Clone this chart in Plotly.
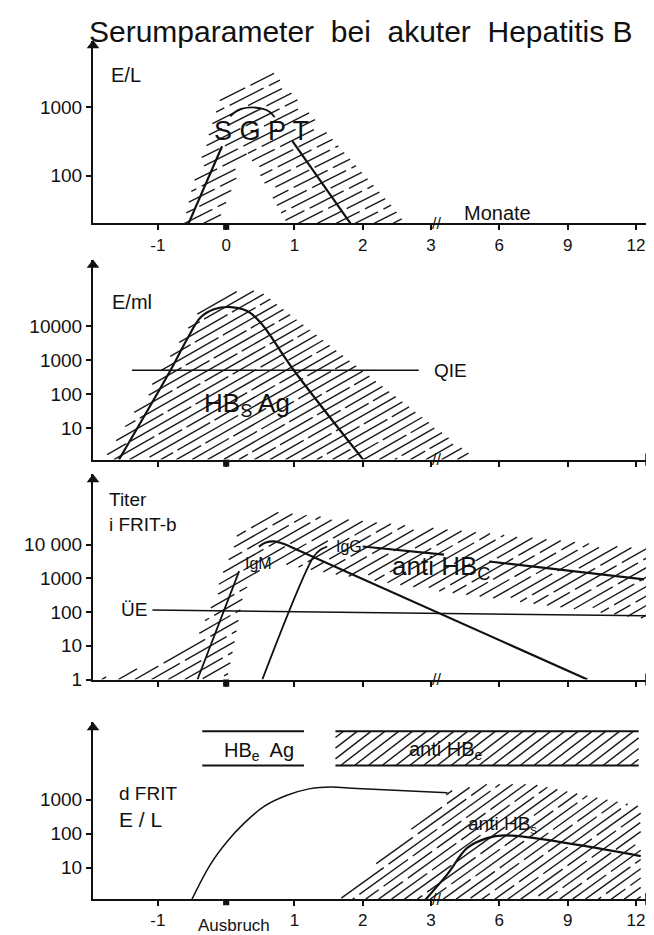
import numpy as np
import plotly.graph_objects as go

# ---------------- data (x = position on the broken month axis) ----------------
X_POS = [-1, 0, 1, 2, 3, 4, 5, 6]
X_LABELS = ["-1", "0", "1", "2", "3", "6", "9", "12"]
X_POS_BOTTOM = [-1, 1, 2, 3, 4, 5, 6]
X_LABELS_BOTTOM = ["-1", "1", "2", "3", "6", "9", "12"]

# Panel 1: SGPT (E/L)
SGPT_ZONE_X = [-0.62, -0.50, -0.35, -0.20, -0.09, 0.06, 0.70, 2.55, 2.60, 0.89, 0.31, -0.13]
SGPT_ZONE_Y = [20, 65, 195, 590, 1290, 2000, 3160, 26, 20, 20, 220, 20]
SGPT_RISE_X = [-0.55, -0.06]
SGPT_RISE_Y = [20, 270]
SGPT_PEAK_X = [0.06, 0.13, 0.22, 0.38, 0.54, 0.64, 0.71]
SGPT_PEAK_Y = [740, 860, 950, 1000, 950, 860, 720]
SGPT_FALL_X = [0.97, 1.82]
SGPT_FALL_Y = [320, 20]

# Panel 2: HBs Ag (E/ml)
HBSAG_ZONE_X = [-1.79, -0.38, -0.05, 0.30, 0.50, 3.67]
HBSAG_ZONE_Y = [1.2, 30000, 89000, 112000, 102000, 1.2]
HBSAG_X = [-1.57, -0.815, -0.571, -0.376, -0.18, 0.063, 0.307, 0.502, 0.991, 2.006]
HBSAG_Y = [1.2, 500, 4100, 17500, 30500, 35500, 27200, 12500, 500, 1.2]
QIE_X = [-1.38, 2.82]
QIE_Y = [500, 500]

# Panel 3: anti HBc (Titer iFRIT-b)
HBC_ZONE_X = [-1.89, -1.06, -0.42, -0.18, -0.08, 0.11, 0.16, 0.70, 2.2, 6.02, 6.16, 6.16,
              4.55, 3.09, 1.63, 0.89, 0.50, 0.26, 0.11, 0.01]
HBC_ZONE_Y = [1, 3, 18, 215, 1050, 7900, 19500, 95000, 46000, 7900, 7600, 63,
              175, 430, 1300, 2500, 1600, 430, 9.5, 1]
IGM_X = [-0.42, 0.19]
IGM_Y = [1, 1650]
HBC_TOTAL_X = [0.48, 0.58, 0.70, 0.84, 0.99, 5.29]
HBC_TOTAL_Y = [8900, 11700, 12600, 10700, 7900, 1]
IGG_X = [0.53, 1.28, 1.38, 1.48]
IGG_Y = [1, 4400, 7100, 8900]
HBC_LATE_X = [2.0, 3.19, None, 3.85, 6.12]
HBC_LATE_Y = [8900, 5100, None, 3200, 940]
UE_X = [-1.08, 6.16]
UE_Y = [115, 78]

# Panel 4: HBe Ag / anti HBe bars, d FRIT, anti HBs
HBEAG_X = [-0.35, 1.14]
ANTIHBE_X = [1.60, 6.04]
BAR_LOW, BAR_HIGH = 10000, 100000
DFRIT_X = [-0.50, -0.23, 0.015, 0.26, 0.55, 0.89, 1.23, 1.53, 1.92, 3.24]
DFRIT_Y = [1.2, 12.6, 59, 200, 620, 1330, 2090, 2340, 2100, 1580]
HBS_ZONE_X = [1.67, 3.28, 3.80, 4.50, 5.20, 6.07, 6.07]
HBS_ZONE_Y = [1.2, 1780, 2800, 2800, 1400, 630, 1.2]
ANTIHBS_X = [2.89, 3.24, 3.53, 3.82, 4.07, 6.07]
ANTIHBS_Y = [1.0, 6.5, 38, 74, 89, 22]

# ---------------- layout geometry ----------------
W, H = 654, 935
X_LEFT_PX, X_RIGHT_PX = 85, 645
X_RANGE = [-1.95, 6.25]
SX = (X_RIGHT_PX - X_LEFT_PX) / (X_RANGE[1] - X_RANGE[0])
# (top px, bottom px, log range min, log range max)
PANELS = [(33, 218, 1.30, 3.98), (255, 457, 0.08, 5.93),
          (472, 679.5, 0.0, 6.09), (723, 901.7, 0.08, 5.26)]
Y_TICKS = [[100, 1000], [10, 100, 1000, 10000], [1, 10, 100, 1000, 10000], [10, 100, 1000]]
Y_TICKTEXT = [["100", "1000"], ["10", "100", "1000", "10000"],
              ["1", "10", "100", "1000", "10 000"], ["10", "100", "1000"]]

FONT = "Liberation Sans, Arial, sans-serif"
INK = "#111111"


def sy_of(i):
    top, bot, r0, r1 = PANELS[i]
    return (bot - top) / (r1 - r0)


def hatch(xs, ys, panel, angle_deg, spacing, dash=None):
    """Parallel hatch strokes clipped to a polygon (computed in screen space)."""
    sy = sy_of(panel)
    u = np.array(xs, float) * SX
    v = np.log10(np.array(ys, float)) * sy
    th = np.radians(angle_deg)
    c, s = np.cos(th), np.sin(th)
    n = -u * s + v * c
    t = u * c + v * s
    ox, oy = [], []
    m = len(u)

    def put(n0, ta, tb):
        for tt in (ta, tb):
            ox.append((tt * c - n0 * s) / SX)
            oy.append(10 ** ((tt * s + n0 * c) / sy))
        ox.append(None)
        oy.append(None)

    for k in range(int(np.floor(n.min() / spacing)), int(np.ceil(n.max() / spacing)) + 1):
        n0 = (k + 0.5) * spacing
        ts = []
        for i in range(m):
            j = (i + 1) % m
            a, b = n[i] - n0, n[j] - n0
            if (a < 0) != (b < 0):
                f = a / (a - b)
                ts.append(t[i] + f * (t[j] - t[i]))
        ts.sort()
        for t0, t1 in zip(ts[0::2], ts[1::2]):
            if dash is None:
                put(n0, t0, t1)
                continue
            seg, gap = dash
            period = seg + gap
            phase = (k * 0.37 * period) % period
            st = np.floor((t0 + phase) / period) * period - phase
            while st < t1:
                a_, b_ = max(st, t0), min(st + seg, t1)
                if b_ - a_ > 2:
                    put(n0, a_, b_)
                st += period
    return ox, oy


fig = go.Figure()


def axn(i):
    return "" if i == 0 else str(i + 1)


def add_line(x, y, panel, width=2.2, shape="linear", color=INK):
    fig.add_trace(go.Scatter(x=x, y=y, mode="lines", xaxis="x" + axn(panel), yaxis="y" + axn(panel),
                             line=dict(color=color, width=width, shape=shape),
                             hoverinfo="skip", showlegend=False))


def add_hatch(xs, ys, panel, angle, spacing, width=1.4, dash=None):
    hx, hy = hatch(xs, ys, panel, angle, spacing, dash)
    add_line(hx, hy, panel, width=width, color="#1a1a1a")


# Panel 1
add_hatch(SGPT_ZONE_X, SGPT_ZONE_Y, 0, 27, 8.6, dash=(38, 6))
add_line(SGPT_RISE_X, SGPT_RISE_Y, 0)
add_line(SGPT_PEAK_X, SGPT_PEAK_Y, 0, width=1.8, shape="spline")
add_line(SGPT_FALL_X, SGPT_FALL_Y, 0)

# Panel 2
add_hatch(HBSAG_ZONE_X, HBSAG_ZONE_Y, 1, 30, 7.8, dash=(70, 5))
add_line(HBSAG_X, HBSAG_Y, 1, shape="spline")
add_line(QIE_X, QIE_Y, 1, width=1.5)

# Panel 3
add_hatch(HBC_ZONE_X, HBC_ZONE_Y, 2, 30, 8.3, dash=(48, 6))
add_line(IGM_X, IGM_Y, 2, width=1.8)
add_line(HBC_TOTAL_X, HBC_TOTAL_Y, 2, shape="spline")
add_line(IGG_X, IGG_Y, 2, width=1.8, shape="spline")
add_line(HBC_LATE_X, HBC_LATE_Y, 2)
add_line(UE_X, UE_Y, 2, width=1.5)

# Panel 4
add_hatch([ANTIHBE_X[0], ANTIHBE_X[1], ANTIHBE_X[1], ANTIHBE_X[0]],
          [BAR_LOW, BAR_LOW, BAR_HIGH, BAR_HIGH], 3, 38, 8.5)
for lvl in (BAR_LOW, BAR_HIGH):
    add_line(HBEAG_X, [lvl, lvl], 3, width=2)
    add_line(ANTIHBE_X, [lvl, lvl], 3, width=2)
add_hatch(HBS_ZONE_X, HBS_ZONE_Y, 3, 36, 7.6, dash=(60, 6))
add_line(DFRIT_X, DFRIT_Y, 3, width=1.5, shape="spline")
add_line(ANTIHBS_X, ANTIHBS_Y, 3, shape="spline")

# ---------------- axes ----------------
layout = dict(width=W, height=H, margin=dict(l=0, r=0, t=0, b=0),
              paper_bgcolor="white", plot_bgcolor="white",
              font=dict(family=FONT, color=INK, size=17), showlegend=False)
annotations = []
shapes = []
for i, (top, bot, r0, r1) in enumerate(PANELS):
    k = axn(i)
    if i == 0:
        tv, tt, show = X_POS, X_LABELS, True
    elif i == 3:
        tv, tt, show = X_POS_BOTTOM, X_LABELS_BOTTOM, True
    else:
        tv, tt, show = X_POS, X_LABELS, False
    layout["xaxis" + k] = dict(
        domain=[X_LEFT_PX / W, X_RIGHT_PX / W], range=X_RANGE, anchor="y" + k,
        showline=True, linewidth=2, linecolor=INK, showgrid=False, zeroline=False,
        ticks="outside", ticklen=5, tickwidth=1.5, tickcolor=INK,
        tickvals=tv, ticktext=tt, showticklabels=show, tickfont=dict(size=17),
        fixedrange=True)
    layout["yaxis" + k] = dict(
        domain=[1 - bot / H, 1 - top / H], range=[r0, r1], type="log", anchor="x" + k,
        showline=True, linewidth=2, linecolor=INK, showgrid=False, zeroline=False,
        ticks="outside", ticklen=5, tickwidth=1.5, tickcolor=INK,
        tickvals=Y_TICKS[i], ticktext=Y_TICKTEXT[i], tickfont=dict(size=19), fixedrange=True)
    # axis arrowheads
    fig.add_trace(go.Scatter(
        x=[X_RANGE[1] - 5 / SX, X_RANGE[0]], y=[10 ** r0, 10 ** (r1 - 5 / sy_of(i))],
        mode="markers", xaxis="x" + k, yaxis="y" + k, cliponaxis=False,
        marker=dict(symbol=["triangle-right", "triangle-up"], size=11, color=INK,
                    line=dict(width=0)),
        hoverinfo="skip", showlegend=False))
    # axis break
    annotations.append(dict(xref="x" + k, yref="y" + k, x=3.08, y=r0, text="//",
                            showarrow=False, font=dict(size=16, color=INK)))
    # bold mark at onset
    shapes.append(dict(type="rect", xref="x" + k, yref="y" + k + " domain",
                       x0=-0.045, x1=0.045, y0=-0.035, y1=0, fillcolor=INK,
                       line=dict(width=0)))


def paper_text(text, px, py, size, anchor="left"):
    annotations.append(dict(xref="paper", yref="paper", x=px / W, y=1 - py / H, text=text,
                            showarrow=False, xanchor=anchor, yanchor="middle",
                            font=dict(size=size, color=INK, family=FONT)))


def data_text(text, panel, x, y, size, anchor="center"):
    k = axn(panel)
    annotations.append(dict(xref="x" + k, yref="y" + k, x=x, y=np.log10(y), text=text,
                            showarrow=False, xanchor=anchor, yanchor="middle",
                            font=dict(size=size, color=INK, family=FONT)))


paper_text("Serumparameter  bei  akuter  Hepatitis B", 353, 24, 30, "center")
paper_text("E/L", 101, 68, 20)
paper_text("Monate", 489, 207, 20, "center")
data_text("S G P T", 0, 0.52, 450, 27)

paper_text("E/ml", 102, 298, 20)
data_text("QIE", 1, 3.02, 500, 19, "left")
data_text("HB<sub>S</sub> Ag", 1, 0.30, 48, 26)

paper_text("Titer", 99, 497, 19)
paper_text("i FRIT-b", 99, 523, 19)
paper_text("ÜE", 126, 609, 19, "center")
data_text("IgM", 2, 0.24, 2800, 16, "left")
data_text("IgG", 2, 1.58, 8900, 16, "left")
data_text("anti HB<sub>C</sub>", 2, 3.14, 2150, 26)

data_text("HB<sub>e</sub>  Ag", 3, 0.48, 25000, 20)
data_text("anti HB<sub>e</sub>", 3, 3.22, 27000, 20)
data_text("anti HB<sub>s</sub>", 3, 4.05, 180, 19)
paper_text("d FRIT", 109, 795, 19)
paper_text("E / L", 109, 821, 21)
annotations.append(dict(xref="x4", yref="paper", x=0.12, y=1 - 928 / H, text="Ausbruch",
                        showarrow=False, xanchor="center", yanchor="middle",
                        font=dict(size=17, color=INK, family=FONT)))

layout["annotations"] = annotations
layout["shapes"] = shapes
fig.update_layout(**layout)
fig.write_html("out.html")
